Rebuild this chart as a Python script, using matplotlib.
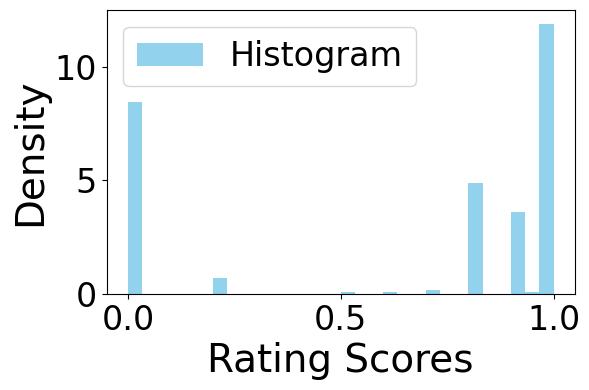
import numpy as np
import matplotlib
matplotlib.use('Agg')
import matplotlib.pyplot as plt

# rating scores observed and how often each one occurs
scores = [0.0, 0.2, 0.5, 0.6, 0.7, 0.8, 0.9, 0.95, 1.0]
counts = [94, 8, 1, 1, 2, 54, 40, 1, 132]

fig = plt.figure(figsize=(5.89, 3.9), dpi=100)
ax = fig.add_axes([0.181, 0.246, 0.795, 0.728])

ax.hist(scores, bins=30, range=(0, 1), weights=counts, density=True,
        color='skyblue', alpha=0.9, label='Histogram')

ax.set_xlabel('Rating Scores', fontsize=28)
ax.set_ylabel('Density', fontsize=28)
ax.tick_params(axis='both', labelsize=24)
ax.legend(fontsize=24, loc='upper left')

fig.savefig('out.png', dpi=100)
